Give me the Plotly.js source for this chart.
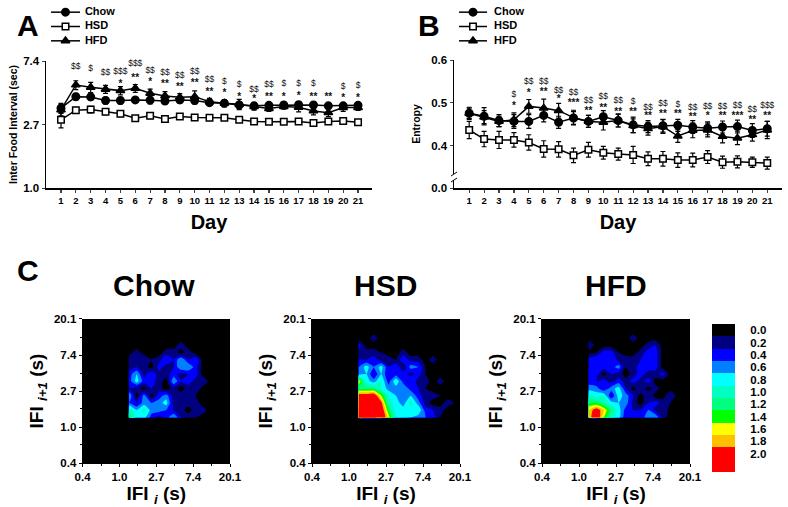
<!DOCTYPE html>
<html><head><meta charset="utf-8">
<script src="https://cdn.plot.ly/plotly-3.0.1.min.js"></script>
<style>html,body{margin:0;padding:0;background:#fff}#c{width:788px;height:507px}</style></head>
<body><div id="c"></div>
<script>
const days=[1,2,3,4,5,6,7,8,9,10,11,12,13,14,15,16,17,18,19,20,21];
// Panel A
const ifiChow=[3.52,4.22,4.20,3.97,3.97,4.01,3.99,3.94,4.01,3.97,3.84,3.80,3.70,3.65,3.68,3.70,3.72,3.70,3.65,3.65,3.68];
const ifiChowErr=[.28,.22,.2,.2,.2,.15,.22,.18,.2,.2,.15,.2,.18,.18,.15,.15,.18,.18,.15,.15,.15];
const ifiHSD=[2.93,3.41,3.44,3.32,3.22,3.00,3.12,2.97,3.08,3.04,3.02,3.02,2.93,2.85,2.84,2.84,2.85,2.79,2.85,2.87,2.82];
const ifiHSDErr=[.35,.16,.18,.14,.14,.1,.14,.1,.1,.08,.08,.12,.08,.08,.07,.07,.07,.07,.1,.08,.08];
const ifiHFD=[3.42,5.07,4.89,4.74,4.64,4.81,4.45,4.27,4.18,4.22,3.90,3.80,3.74,3.61,3.50,3.61,3.57,3.37,3.28,3.55,3.55];
const ifiHFDErr=[.3,.35,.4,.3,.3,.3,.3,.3,.25,.4,.2,.2,.3,.2,.15,.15,.25,.2,.2,.2,.15];
const starsADays=[5,6,7,8,9,10,11,12,13,14,15,16,17,18,19,20,21];
const starsA=['*','**','*','**','**','**','**','*','*','*','**','*','*','**','**','*','*'];
const starsAY=[5.15,5.63,5.24,5.09,4.84,5.18,4.52,4.41,4.18,4.05,4.14,4.18,4.25,4.18,4.14,4.07,4.09];
const dollarsADays=[2,3,4,5,6,7,8,9,10,11,12,13,14,15,16,17,18,20,21];
const dollarsA=['$$','$','$$','$$$','$$$','$$','$$','$$','$$','$$','$','$','$$','$$','$','$','$','$','$'];
const dollarsAY=[6.77,6.52,6.13,6.26,7.06,6.35,6.16,5.84,6.26,5.49,5.32,5.05,4.71,5.07,5.13,5.15,5.13,4.94,4.99];
// Panel B
const entChow=[.476,.469,.459,.457,.457,.471,.455,.465,.457,.468,.459,.449,.445,.447,.448,.444,.441,.444,.445,.436,.440];
const entChowErr=[.014,.02,.014,.016,.016,.015,.014,.015,.014,.014,.015,.018,.014,.015,.014,.015,.015,.014,.015,.016,.017];
const entHSD=[.437,.416,.414,.414,.408,.393,.392,.378,.391,.384,.381,.379,.370,.370,.367,.367,.374,.362,.363,.362,.360];
const entHSDErr=[.02,.018,.02,.017,.018,.019,.018,.017,.017,.015,.014,.02,.016,.017,.017,.016,.015,.014,.014,.012,.014];
const entHFD=[.476,.467,.457,.461,.492,.488,.482,.466,.457,.455,.459,.447,.440,.445,.423,.436,.437,.422,.418,.426,.437];
const entHFDErr=[.012,.015,.012,.016,.016,.021,.017,.017,.014,.018,.015,.016,.015,.016,.015,.017,.016,.015,.015,.015,.02];
const starsBDays=[4,5,6,7,8,9,10,11,12,13,14,15,16,17,18,19,20,21];
const starsB=['*','*','**','*','***','**','**','**','**','**','**','**','**','*','**','***','**','**'];
const starsBY=[.491,.521,.525,.508,.498,.479,.487,.477,.477,.468,.472,.472,.465,.468,.468,.468,.460,.468];
const dollarsBDays=[4,5,6,7,8,9,10,11,12,13,14,15,16,17,18,19,20,21];
const dollarsB=['$','$$','$$','$$','$$','$$','$$','$$','$','$$','$$','$','$$','$$','$$','$$','$$','$$$'];
const dollarsBY=[.518,.548,.549,.529,.523,.504,.513,.504,.503,.489,.497,.495,.489,.490,.492,.493,.485,.493];
const groups=['Chow','HSD','HFD'];
// Panel C grids: rows run from low IFI(i+1) to high, columns from low IFI(i) to high
const ifiGrid=[1.31,1.60,1.95,2.39,2.92,3.56,4.35,5.31,6.49,7.92,9.68,11.8,14.4];
const zChow=[
[1.4,.8,.8,.4,.2,.4,.7,.3,.2,.1,0,0,0],
[1.1,.7,1.0,.6,.6,.5,.3,.2,0,.2,.2,0,0],
[.5,.3,.6,.5,.6,.8,.2,.3,.2,.2,0,0,0],
[.7,0,.6,0,.4,.6,.2,.2,.3,.1,0,0,0],
[.3,.2,0,.3,.2,0,.2,0,.2,.3,0,0,0],
[.4,.8,.4,.4,.2,0,.7,.3,.4,.2,.3,0,0],
[.4,.7,.2,.5,.2,.2,.4,.2,.3,.4,0,0,0],
[.2,.3,.2,0,.4,.2,.3,.7,.7,.4,0,0,0],
[.3,.1,.3,.1,.2,.5,.3,.7,.3,.5,0,0,0],
[0,.2,0,0,0,.2,.2,0,.2,0,0,0,0],
[0,0,0,0,0,0,0,.2,0,0,0,0,0],
[0,0,0,0,0,0,0,0,0,0,0,0,0],
[0,0,0,0,0,0,0,0,0,0,0,0,0]];
const zHSD=[
[2.8,2.8,2.8,2.3,1.6,.9,.9,.7,.6,.5,.4,.1,0],
[2.8,2.8,2.8,2.2,1.3,.8,.8,.8,.9,.4,.3,.2,0],
[2.6,2.6,2.4,2.0,1.0,.8,.6,1.0,.6,.2,0,0,.2],
[2.1,2.1,2.2,1.5,.9,.7,.5,.7,.4,.2,.2,.1,0],
[1.2,1.2,1.2,.9,.6,.6,.7,.4,.3,.1,0,0,0],
[1.7,.8,.6,.9,.4,.9,.4,.5,.2,.2,0,.2,0],
[.6,.7,.3,.7,.3,.4,.4,.2,.4,.1,0,0,0],
[.5,.8,.5,.8,.3,.5,.1,.6,.5,.1,0,0,0],
[.3,.3,.4,.2,.2,.1,.5,.2,.2,0,.2,0,0],
[.2,.2,.2,.1,0,0,.2,0,0,0,0,0,0],
[.4,0,0,0,0,0,0,0,0,0,0,0,0],
[0,0,.2,0,0,0,0,0,0,0,0,0,0],
[0,0,0,0,0,0,0,0,0,0,0,0,0]];
const zHFD=[
[1.7,2.3,1.5,1.0,.8,.3,.4,.4,.6,.7,.2,0,0],
[1.7,2.1,1.7,1.2,.8,.4,.3,.3,.5,.2,.3,0,0],
[1.3,1.3,1.1,.8,.7,.6,.2,0,.3,.4,.2,.1,0],
[1.0,.8,.9,.3,.8,.6,.3,0,.3,0,0,.3,0],
[.6,.6,.3,.6,.8,.3,0,.3,0,.2,0,0,0],
[.4,.3,.4,.2,.4,.2,.4,.2,.4,0,0,0,0],
[.5,.4,0,.3,.2,0,.2,.4,.2,.2,.4,0,0],
[.3,.4,.4,.4,.6,.1,.2,.4,.4,.4,0,0,0],
[.4,.5,.3,.5,.2,.2,.2,.3,.4,.4,0,0,0],
[0,.1,.4,.4,.1,0,0,.2,.4,.4,0,0,0],
[.3,0,0,0,0,0,0,0,.2,.3,0,0,0],
[0,0,0,0,0,0,.2,0,0,0,0,0,0],
[0,0,0,0,0,0,0,0,0,0,0,0,0]];
const bandColors=['#000000','#000080','#0000ff','#0080ff','#00ffff','#00ffc0','#00ff80','#00ff00','#ffff00','#ffc000','#ff0000'];
const barValues=[0,.2,.4,.6,.8,1,1.2,1.4,1.6,1.8,2,2];
const barLabels=['0.0','0.2','0.4','0.6','0.8','1.0','1.2','1.4','1.6','1.8','2.0'];
const ifiTicks=[.3679,1,2.718,7.389,20.09];
const ifiTickText=['0.4','1.0','2.7','7.4','20.1'];
const ifiMinor=[.607,1.65,4.48,12.18];

const W=788,H=507,F='"Liberation Sans",Arial,sans-serif';
const dx=(a,b)=>[a/W,b/W], dy=(t,b)=>[1-b/H,1-t/H];
const scale=bandColors.map((c,i)=>[i/10,c]);
const xg=[.3679,1.27].concat(ifiGrid,[20.09]);
const padZ=z=>{const r=z.map(row=>[0,0].concat(row,[0]));const e=r[0].map(()=>0);return [e,e].concat(r,[e]);};
const syms=['circle','square','triangle-up'],fills=['#000','#fff','#000'],sizes=[7.5,6.5,7.5];
const serie=(i,y,err,xa,ya)=>({type:'scatter',mode:'lines+markers',name:groups[i],x:days,y,xaxis:xa,yaxis:ya,showlegend:false,
 line:{color:'#000',width:1.5},marker:{symbol:syms[i],size:sizes[i],color:fills[i],line:{color:'#000',width:1.5}},
 error_y:{type:'data',array:err,color:'#000',thickness:1.2,width:2.5}});
const txt=(x,y,t,xa,ya,sz,w)=>({type:'scatter',mode:'text',x,y,text:t,xaxis:xa,yaxis:ya,showlegend:false,hoverinfo:'skip',
 textfont:{family:F,size:sz,color:'#111',weight:w},textposition:'middle center',cliponaxis:false});
const cont=(z,xa,ya)=>({type:'contour',x:xg,y:xg,z:padZ(z),xaxis:xa,yaxis:ya,showscale:false,colorscale:scale,autocontour:false,
 contours:{start:.1,end:1.9,size:.2,coloring:'fill'},line:{width:0,smoothing:.4},hoverinfo:'skip'});
// legend keys drawn on their own small axes: 0..1 is the key line, the label follows it
const key=(i,xa,ya,lx)=>[
 {type:'scatter',mode:'lines',x:[0,1],y:[i,i],xaxis:xa,yaxis:ya,showlegend:false,hoverinfo:'skip',line:{color:'#000',width:1.5}},
 {type:'scatter',mode:'markers',x:[.5],y:[i],xaxis:xa,yaxis:ya,showlegend:false,hoverinfo:'skip',marker:{symbol:syms[i],size:sizes[i],color:fills[i],line:{color:'#000',width:1.5}}},
 {type:'scatter',mode:'text',x:[lx],y:[i],xaxis:xa,yaxis:ya,showlegend:false,hoverinfo:'skip',text:[groups[i]],textposition:'middle right',textfont:{family:F,size:11,color:'#000',weight:700}}
];
const traces=[
 serie(0,ifiChow,ifiChowErr,'x','y'),serie(1,ifiHSD,ifiHSDErr,'x','y'),serie(2,ifiHFD,ifiHFDErr,'x','y'),
 txt(starsADays,starsAY,starsA,'x','y',10,700),txt(dollarsADays,dollarsAY,dollarsA,'x','y',8.5,400),
 serie(0,entChow,entChowErr,'x2','y2'),serie(1,entHSD,entHSDErr,'x2','y2'),serie(2,entHFD,entHFDErr,'x2','y2'),
 txt(starsBDays,starsBY,starsB,'x2','y2',10,700),txt(dollarsBDays,dollarsBY,dollarsB,'x2','y2',8.5,400),
 cont(zChow,'x3','y3'),cont(zHSD,'x4','y4'),cont(zHFD,'x5','y5'),
 {type:'heatmap',z:barValues.map(v=>[v]),x:[0],y:barValues.map((v,i)=>i),xaxis:'x6',yaxis:'y6',showscale:false,colorscale:scale,zmin:0,zmax:2,hoverinfo:'skip'}
].concat(key(0,'x7','y7',1.17),key(1,'x7','y7',1.17),key(2,'x7','y7',1.17),key(0,'x8','y8',1.25),key(1,'x8','y8',1.25),key(2,'x8','y8',1.25));
const tickF={family:F,size:11.5,color:'#000',weight:700};
const dayAxis=(d,r,anchor)=>({domain:d,range:r,anchor,tickmode:'array',tickvals:days,ticktext:days.map(String),ticks:'outside',ticklen:3,tickwidth:1.2,
 showline:true,linewidth:1.5,linecolor:'#000',showgrid:false,zeroline:false,tickfont:{family:F,size:9.5,color:'#000',weight:700},tickangle:0,
 title:{text:'<b>Day</b>',font:{family:F,size:20,color:'#000'},standoff:10}});
const ifiX=(d,anchor)=>({domain:d,type:'log',range:[-.4343,1.3029],anchor,tickmode:'array',tickvals:ifiTicks,ticktext:ifiTickText,
 ticks:'outside',ticklen:3,tickcolor:'#000',showline:true,linecolor:'#000',linewidth:1,showgrid:false,zeroline:false,tickfont:tickF,tickangle:0,
 minor:{tickvals:ifiMinor,ticks:'outside',ticklen:2,tickcolor:'#000'},
 title:{text:'<b>IFI <sub><i>i</i></sub> (s)</b>',font:{family:F,size:19,color:'#000'},standoff:4}});
const ifiY=(anchor)=>Object.assign(ifiX(dy(319,463),anchor),{title:{text:'<b>IFI <sub><i>i+1</i></sub> (s)</b>',font:{family:F,size:19,color:'#000'},standoff:5}});
const hidden=(d,r,anchor)=>({domain:d,range:r,anchor,visible:false,fixedrange:true});
const layout={width:W,height:H,margin:{l:0,r:0,t:0,b:0},paper_bgcolor:'#fff',plot_bgcolor:'rgba(0,0,0,0)',
 xaxis:dayAxis(dx(46,372),[-0.01,21.94],'y'),
 yaxis:{domain:dy(61,188),type:'log',range:[0,Math.log10(7.4)],anchor:'x',tickmode:'array',tickvals:[1,2.7,7.4],ticktext:['1.0','2.7','7.4'],ticks:'outside',ticklen:3,
  showline:true,linewidth:1.5,linecolor:'#000',showgrid:false,zeroline:false,tickfont:tickF,title:{text:'<b>Inter Food Interval (sec)</b>',font:{family:F,size:10.5,color:'#000'},standoff:3}},
 xaxis2:dayAxis(dx(454,782),[-0.02,21.99],'y2'),
 yaxis2:{domain:dy(60,188),range:[.302,.6],anchor:'x2',tickmode:'array',tickvals:[.302,.4,.5,.6],ticktext:['0.0','0.4','0.5','0.6'],ticks:'outside',ticklen:3,
  showline:true,linewidth:1.5,linecolor:'#000',showgrid:false,zeroline:false,tickfont:tickF,title:{text:'<b>Entropy</b>',font:{family:F,size:10.5,color:'#000'},standoff:8}},
 xaxis3:ifiX(dx(82.6,230),'y3'),yaxis3:ifiY('x3'),
 xaxis4:ifiX(dx(312,460),'y4'),yaxis4:ifiY('x4'),
 xaxis5:ifiX(dx(542,690),'y5'),yaxis5:ifiY('x5'),
 xaxis6:hidden(dx(712,735),[-.5,.5],'y6'),
 yaxis6:{domain:dy(324,472),anchor:'x6',side:'right',range:[11.5,-.5],tickmode:'array',tickvals:barLabels.map((v,i)=>i),ticktext:barLabels,ticks:'outside',ticklen:12,tickcolor:'rgba(0,0,0,0)',showline:false,showgrid:false,zeroline:false,tickfont:tickF},
 xaxis7:hidden(dx(51,130),[0,2.724],'y7'),yaxis7:hidden(dy(5,48),[2.5,-.5],'x7'),
 xaxis8:hidden(dx(459,540),[0,2.893],'y8'),yaxis8:hidden(dy(5,48),[2.5,-.5],'x8'),
 annotations:[
  ['A',28,25,30],['B',429,25,30],['C',28,270,30],['Chow',154,285,30],['HSD',385,285,30],['HFD',616,285,30]
 ].map(a=>({text:'<b>'+a[0]+'</b>',x:a[1]/W,y:1-a[2]/H,xref:'paper',yref:'paper',showarrow:false,xanchor:'center',yanchor:'middle',font:{family:F,size:a[3],color:'#000'}})),
 shapes:[
  {type:'rect',xref:'paper',yref:'paper',x0:452/W,x1:456/W,y0:1-180/H,y1:1-174/H,fillcolor:'#fff',line:{width:0}},
  {type:'line',xref:'paper',yref:'paper',x0:451/W,x1:457/W,y0:1-176/H,y1:1-172/H,line:{color:'#000',width:1}},
  {type:'line',xref:'paper',yref:'paper',x0:451/W,x1:457/W,y0:1-182/H,y1:1-178/H,line:{color:'#000',width:1}}
 ]};
Plotly.newPlot('c',traces,layout,{displayModeBar:false,staticPlot:true});
</script></body></html>
